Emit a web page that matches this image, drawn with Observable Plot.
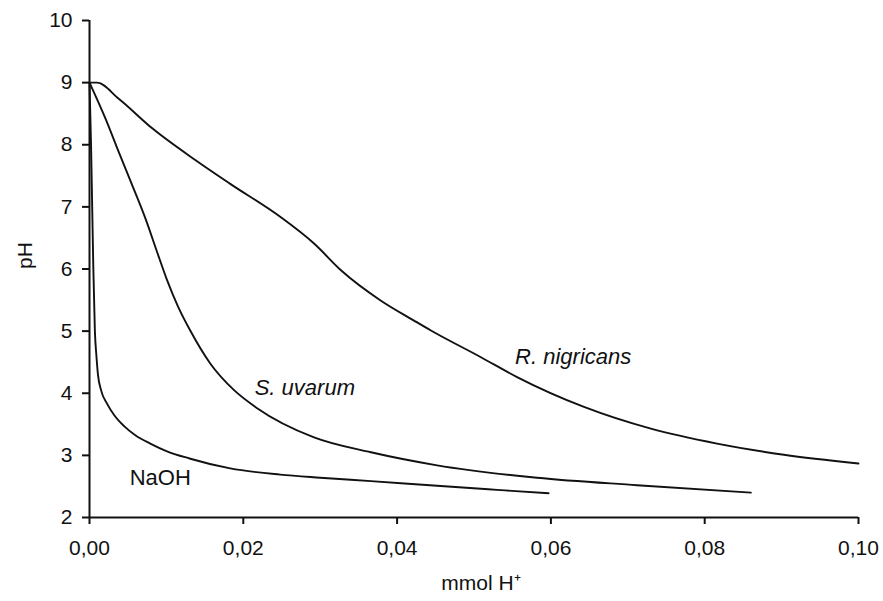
<!DOCTYPE html>
<html>
<head>
<meta charset="utf-8">
<script src="https://cdn.jsdelivr.net/npm/d3@7"></script>
<script src="https://cdn.jsdelivr.net/npm/@observablehq/plot@0.6"></script>
<style>
  html, body { margin: 0; padding: 0; background: #fff; }
  #chart svg { display: block; }
</style>
</head>
<body>
<div id="chart"></div>
<script>
// NaOH titration curve
const naohX  = [0, 0.0002, 0.00035, 0.0005, 0.0007, 0.0009, 0.0011, 0.0015, 0.0023, 0.0032, 0.0045, 0.006, 0.0079, 0.0100, 0.0130, 0.0183, 0.0248, 0.0300, 0.0366, 0.0452, 0.0530, 0.0597];
const naohPH = [9, 8, 7, 6, 5, 4.6, 4.3, 4.05, 3.83, 3.65, 3.47, 3.32, 3.19, 3.07, 2.95, 2.79, 2.69, 2.64, 2.585, 2.51, 2.445, 2.39];
// S. uvarum
const uvaX  = [0, 0.00208, 0.00381, 0.00555, 0.00728, 0.0088, 0.0100, 0.0115, 0.0131, 0.0157, 0.0188, 0.0218, 0.0292, 0.0366, 0.0452, 0.0582, 0.0712, 0.0860];
const uvaPH = [9, 8.42, 7.88, 7.35, 6.81, 6.27, 5.85, 5.40, 5.01, 4.48, 4.05, 3.76, 3.29, 3.05, 2.84, 2.64, 2.52, 2.40];
// R. nigricans
const nigX  = [0, 0.0010, 0.0038, 0.0082, 0.0138, 0.0183, 0.0248, 0.0292, 0.0327, 0.0379, 0.0422, 0.0444, 0.0509, 0.0556, 0.0643, 0.0730, 0.0816, 0.0903, 0.1000];
const nigPH = [9, 9.0, 8.74, 8.26, 7.75, 7.37, 6.84, 6.41, 5.98, 5.49, 5.17, 5.01, 4.58, 4.26, 3.78, 3.43, 3.19, 3.01, 2.87];

const seriesNames = ["NaOH", "S. uvarum", "R. nigricans"];
const labelX  = [0.0092, 0.0280, 0.0629];
const labelPH = [2.63, 4.09, 4.58];
const labelItalic = [false, true, true];

const xTicks = [0, 0.02, 0.04, 0.06, 0.08, 0.10];
const yTicks = [2, 3, 4, 5, 6, 7, 8, 9, 10];
const xLabel = "mmol H\u207A";
const yLabel = "pH";

const toRows = (name, xs, ys) => xs.map((x, i) => ({series: name, x, pH: ys[i]}));
const rows = [
  ...toRows(seriesNames[0], naohX, naohPH),
  ...toRows(seriesNames[1], uvaX, uvaPH),
  ...toRows(seriesNames[2], nigX, nigPH)
];
const labels = seriesNames.map((s, i) => ({series: s, x: labelX[i], pH: labelPH[i], italic: labelItalic[i]}));

const fmt = d => d.toFixed(2).replace(".", ",");
const ink = "#111";

const chart = Plot.plot({
  width: 883,
  height: 601,
  marginLeft: 89,
  marginRight: 25,
  marginTop: 20,
  marginBottom: 84,
  style: {fontFamily: "'Liberation Sans', Arial, sans-serif", fontSize: "21px", color: ink, background: "#fff"},
  x: {domain: [0, 0.1]},
  y: {domain: [2, 10]},
  marks: [
    Plot.axisX({ticks: xTicks, tickFormat: fmt, tickSize: 7, tickPadding: 16, label: null, strokeWidth: 2, fontSize: 21}),
    Plot.axisY({ticks: yTicks, tickFormat: d => String(d), tickSize: 7, tickPadding: 10, label: null, strokeWidth: 2, fontSize: 21}),
    Plot.ruleX([0], {stroke: ink, strokeWidth: 2}),
    Plot.ruleY([2], {stroke: ink, strokeWidth: 2}),
    Plot.line(rows, {x: "x", y: "pH", z: "series", stroke: ink, strokeWidth: 1.9, curve: "monotone-x"}),
    Plot.text(labels.filter(d => !d.italic), {x: "x", y: "pH", text: "series", fontSize: 22, fill: ink}),
    Plot.text(labels.filter(d => d.italic), {x: "x", y: "pH", text: "series", fontSize: 22, fontStyle: "italic", fill: ink}),
    Plot.text([yLabel], {frameAnchor: "left", dx: -64, rotate: -90, fontSize: 21, fill: ink}),
    Plot.text([xLabel], {frameAnchor: "bottom", dx: 7, dy: 72, fontSize: 21, fill: ink})
  ]
});
document.getElementById("chart").append(chart);
</script>
</body>
</html>
